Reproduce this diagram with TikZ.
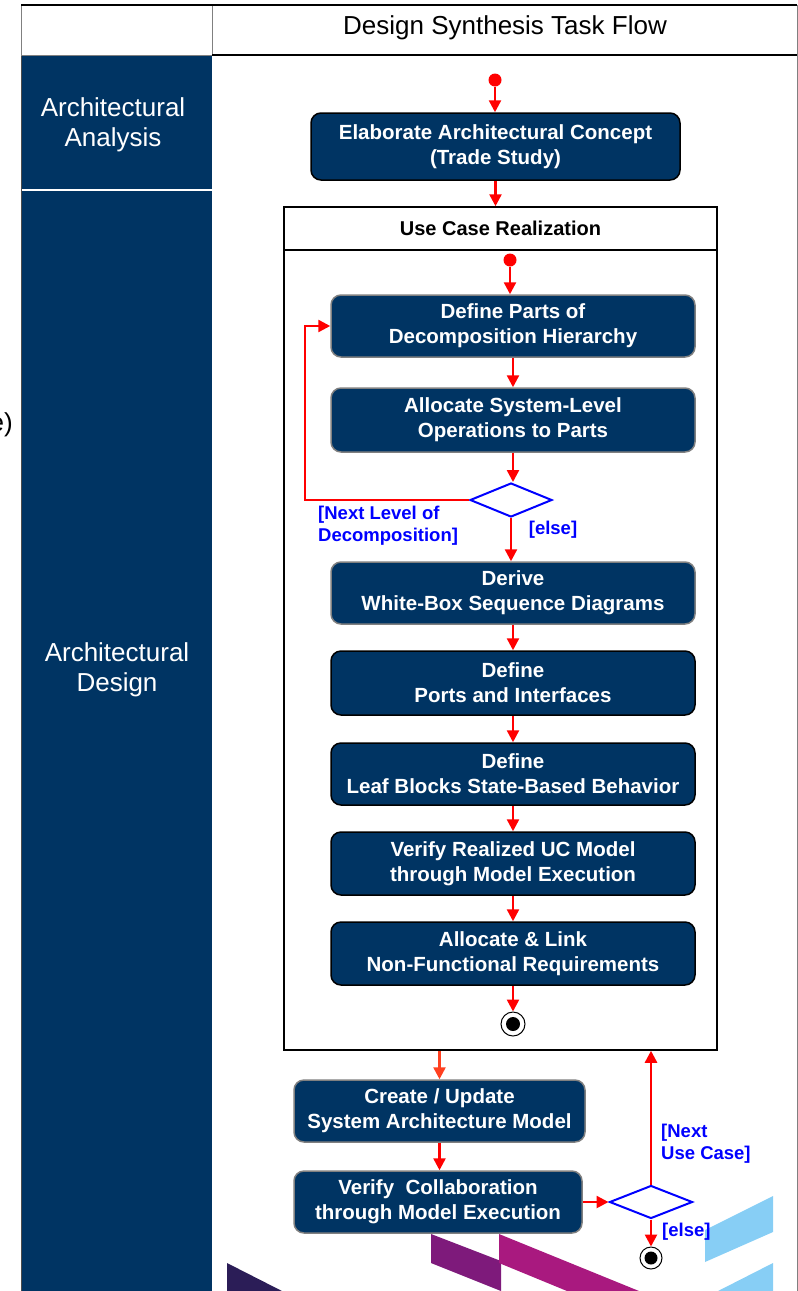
\documentclass[tikz,border=0pt]{standalone}
\usepackage{fontspec}
\setmainfont{Liberation Sans}
\usetikzlibrary{arrows.meta, shapes.geometric}
\definecolor{navy}{RGB}{0,52,99}
\definecolor{deepviolet}{RGB}{43,29,87}
\definecolor{plum}{RGB}{126,26,123}
\definecolor{berry}{RGB}{169,25,127}
\definecolor{skyblue}{RGB}{135,206,245}
\definecolor{orangered}{RGB}{255,64,32}
\begin{document}
\begin{tikzpicture}[x=1pt, y=-1pt,
  task/.style={draw=black, line width=1.5pt, fill=navy, rounded corners=10pt, text=white, font=\bfseries\fontsize{20.5}{25}\selectfont, align=center, minimum width=364pt, inner sep=0pt},
  pale/.style={draw=gray},
  flow/.style={red, line width=2.5pt, -{Triangle[width=12pt,length=12pt]}},
  guard/.style={text=blue, font=\bfseries\fontsize{18.5}{22}\selectfont, align=left, inner sep=0pt},
  choice/.style={diamond, draw=blue, line width=2pt, aspect=2.45, minimum width=82pt, minimum height=34pt, inner sep=0pt},
  start/.style={circle, fill=red, minimum size=13pt, inner sep=0pt},
  stop/.style={circle, draw=black, line width=1pt, minimum size=24pt, inner sep=0pt},
  lane/.style={text=white, font=\fontsize{26}{30}\selectfont, align=center}]
\useasboundingbox (0,0) rectangle (798,1291);
\fill[navy] (21,55) rectangle (212,1291);
\draw[white, line width=1.5pt] (21,190) -- (212,190);
\draw[black!70, line width=1pt] (21,55) -- (21,1291);
\draw[gray, line width=1pt] (21,5) rectangle (212,55);
\draw[line width=1.5pt] (21,5) -- (797,5) (212,55) -- (797,55);
\draw[gray, line width=1pt] (797,5) -- (797,1291);
\node[font=\fontsize{26}{30}\selectfont] (head) at (505,28) {Design Synthesis Task Flow};
\node[lane] (analysis) at (113,125) {Architectural\\Analysis};
\node[lane] (design) at (117,670) {Architectural\\Design};
\node[anchor=east, font=\fontsize{26}{30}\selectfont, inner sep=0pt] (cut) at (13,425) {e)};
\fill[deepviolet] (227,1263) -- (282,1291) -- (227,1291) -- cycle;
\fill[plum] (431,1234) -- (501,1261) -- (501,1291) -- (431,1263) -- cycle;
\fill[berry] (499,1234) -- (639,1291) -- (567,1291) -- (499,1263) -- cycle;
\fill[skyblue] (705,1230) -- (773,1196) -- (773,1232) -- (705,1262) -- cycle;
\fill[skyblue] (718,1291) -- (773,1263) -- (773,1291) -- cycle;

\node[start] (start1) at (495,80) {};
\node[task, minimum width=369pt, minimum height=67pt] (elab) at (495.5,146.5) {Elaborate Architectural Concept\\(Trade Study)};
\node[draw, line width=1.5pt, fill=white, minimum width=433pt, minimum height=843pt, inner sep=0pt] (uc) at (500.5,628.5) {};
\draw[line width=1.5pt] (uc.west |- 0,250) -- (uc.east |- 0,250);
\node[font=\bfseries\fontsize{20}{25}\selectfont] (uctitle) at (500.5,228.5) {Use Case Realization};
\node[start] (start2) at (510,260) {};
\node[task, pale, minimum height=62pt] (parts) at (513,326) {Define Parts of\\Decomposition Hierarchy};
\node[task, pale, minimum height=64pt] (alloc) at (513,420) {Allocate System-Level\\Operations to Parts};
\node[choice] (dec1) at (511,500) {};
\node[task, pale, minimum height=62pt] (derive) at (513,593) {Derive\\White-Box Sequence Diagrams};
\node[task, minimum height=64pt] (ports) at (513,683) {Define\\Ports and Interfaces};
\node[task, minimum height=62pt] (leaf) at (513,774) {Define\\Leaf Blocks State-Based Behavior};
\node[task, minimum height=63pt] (verifyuc) at (513,863.5) {Verify Realized UC Model\\through Model Execution};
\node[task, minimum height=63pt] (nfr) at (513,953.5) {Allocate \& Link\\Non-Functional Requirements};
\node[stop] (end1) at (513,1024) {};
\fill[black] (end1) circle (7pt);
\node[guard, anchor=west] (nextlevel) at (318,526) {[Next Level of\\Decomposition]};
\node[guard] (else1) at (553,530) {[else]};

\node[task, pale, minimum width=291pt, minimum height=62pt] (create) at (439.5,1111) {Create / Update\\System Architecture Model};
\node[task, pale, minimum width=288pt, minimum height=62pt] (collab) at (438,1202) {Verify\ \ Collaboration\\through Model Execution};
\node[choice, minimum width=83pt, minimum height=33pt] (dec2) at (651,1202) {};
\node[stop, minimum size=22pt] (end2) at (651,1258) {};
\fill[black] (end2) circle (6.5pt);
\node[guard, anchor=west] (nextuc) at (661,1144) {[Next\\Use Case]};
\node[guard, anchor=west] (else2) at (662,1232) {[else]};

\draw[flow] (start1.south) -- (start1.south |- elab.north);
\draw[flow] (elab.south) -- (elab.south |- uc.north);
\draw[flow] (start2.south) -- (start2.south |- parts.north);
\foreach \a/\b in {parts/alloc, alloc/dec1, dec1/derive, derive/ports, ports/leaf, leaf/verifyuc, verifyuc/nfr, nfr/end1}{
\draw[flow] (\a.south) -- (\a.south |- \b.north);
}
\coordinate (back) at (305,326);
\draw[flow] (dec1.west) -| (back) -- (parts.west);
\draw[flow, orangered] (create.north |- uc.south) -- (create.north);
\draw[flow] (create.south) -- (create.south |- collab.north);
\draw[flow] (collab.east) -- (dec2.west);
\draw[flow] (dec2.north) -- (dec2.north |- uc.south);
\draw[flow] (dec2.south) -- (end2.north);
\end{tikzpicture}
\end{document}
